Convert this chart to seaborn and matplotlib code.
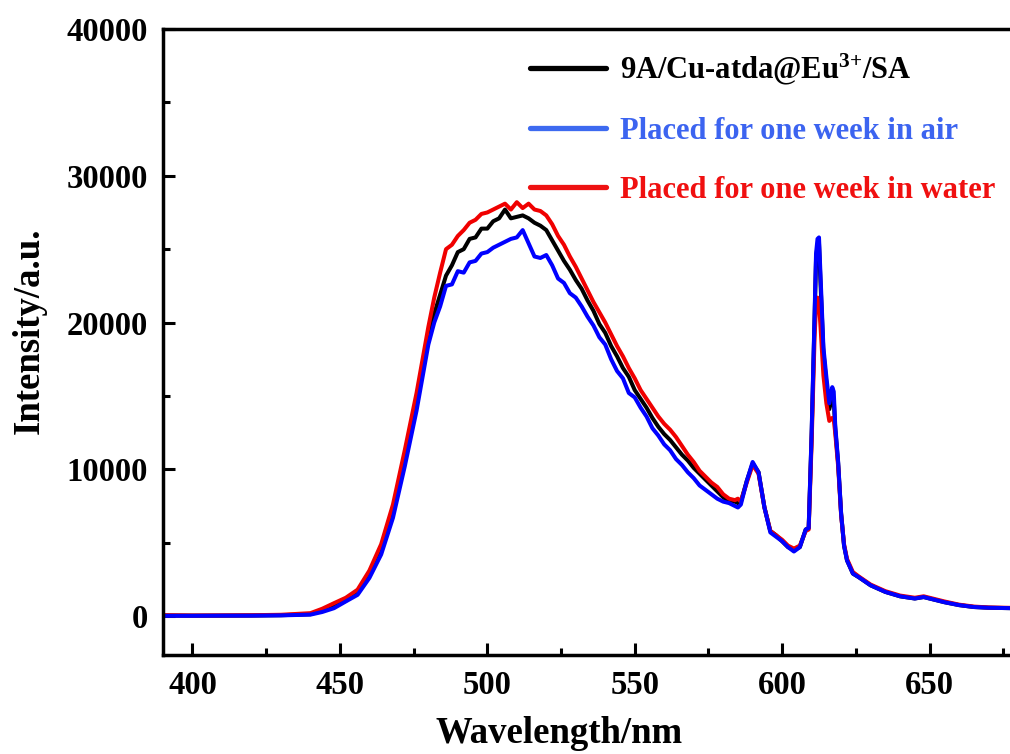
import matplotlib
matplotlib.use('Agg')
import pandas as pd
import matplotlib.pyplot as plt
from matplotlib.lines import Line2D
from matplotlib.ticker import MultipleLocator
import seaborn as sns

# emission spectra (wavelength in nm, intensity a.u.)
wavelength = [390, 400, 410, 420, 430, 440, 444, 448,
              452, 456, 460, 464, 468, 472, 476, 480,
              482, 484, 486, 488, 490, 492, 494, 496, 498, 500,
              502, 504, 506, 508, 510, 512, 514, 516, 518, 520,
              522, 524, 526, 528, 530, 532, 534, 536, 538, 540,
              542, 544, 546, 548, 550, 552, 554, 556, 558, 560,
              562, 564, 566, 568, 570, 572, 574, 576, 578, 580,
              582, 584, 585, 586, 588, 590, 592, 594, 596, 598, 600, 602, 604, 606, 608,
              609, 610, 611, 611.5, 612, 612.5, 613, 614, 615, 616, 617, 617.5, 618, 619, 620, 621, 622, 624,
              626, 630, 635, 640, 645, 648, 650, 655, 660, 665, 670, 678]

fresh = [40, 30, 30, 40, 60, 130, 380, 680,
         1050, 1550, 2750, 4450, 7000, 10600, 14500, 19000,
         20600, 21900, 23200, 23900, 24800, 25000, 25700, 25800, 26400, 26400,
         26900, 27100, 27700, 27100, 27200, 27300, 27100, 26800, 26600, 26300,
         25600, 24900, 24200, 23600, 22900, 22300, 21500, 20800, 19900, 19300,
         18400, 17700, 16900, 16300, 15400, 14800, 14200, 13500, 12900, 12400,
         12000, 11500, 11000, 10600, 10100, 9700, 9300, 8900, 8500, 8100,
         7800, 7800, 7700, 7800, 9200, 10400, 9800, 7400, 5800, 5500, 5100, 4700, 4500, 4700, 5900,
         6000, 12300, 20200, 24300, 25300, 25400, 22800, 18000, 15900, 14100, 14900, 14800, 12800, 10400, 7000, 4800, 3800, 2900,
         2650, 2100, 1650, 1350, 1200, 1300, 1200, 950, 750, 620, 570, 540]

air = [20, 20, 30, 30, 50, 100, 280, 540,
       1000, 1450, 2600, 4200, 6700, 10200, 14000, 18500,
       20000, 21100, 22500, 22600, 23500, 23400, 24100, 24200, 24700, 24800,
       25100, 25300, 25500, 25700, 25800, 26300, 25400, 24500, 24400, 24600,
       23900, 23000, 22700, 22000, 21700, 21100, 20400, 19800, 19000, 18500,
       17500, 16700, 16200, 15200, 14900, 14200, 13600, 12800, 12300, 11700,
       11300, 10700, 10300, 9800, 9400, 8900, 8600, 8300, 8000, 7800,
       7700, 7500, 7400, 7600, 9200, 10500, 9800, 7400, 5700, 5400, 5100, 4700, 4400, 4700, 5900,
       6000, 12500, 20500, 24700, 25700, 25800, 23300, 18300, 16300, 14500, 15600, 15300, 13000, 10500, 7000, 4800, 3800, 2900,
       2650, 2100, 1650, 1350, 1200, 1300, 1200, 950, 750, 620, 570, 540]

water = [60, 40, 50, 60, 90, 200, 500, 880,
         1250, 1800, 3100, 4900, 7600, 11300, 15200, 19700,
         21700, 23400, 25000, 25300, 25900, 26300, 26800, 27000, 27400, 27500,
         27700, 27900, 28100, 27700, 28200, 27800, 28100, 27700, 27600, 27300,
         26700, 25900, 25300, 24500, 23800, 23000, 22200, 21400, 20700, 20000,
         19200, 18400, 17700, 16900, 16200, 15400, 14800, 14200, 13600, 13100,
         12700, 12200, 11600, 11000, 10500, 9900, 9500, 9100, 8800, 8300,
         8000, 7900, 8000, 7800, 9100, 10300, 9700, 7400, 5800, 5500, 5200, 4800, 4600, 4800, 5800,
         5900, 11800, 19000, 21200, 21700, 21300, 19800, 16400, 14500, 13300, 13500, 13400, 12500, 10200, 6900, 4900, 3900, 3000,
         2700, 2150, 1700, 1400, 1250, 1350, 1250, 1000, 780, 650, 590, 560]

labels = [r'9A/Cu-atda@Eu$^{3{+}}$/SA', 'Placed for one week in air', 'Placed for one week in water']

df = pd.DataFrame({'wl': wavelength, 'fresh': fresh, 'air': air, 'water': water})

sns.set_style('ticks')
plt.rcParams['font.family'] = ['Liberation Serif', 'DejaVu Serif']
plt.rcParams['font.weight'] = 'bold'
plt.rcParams['mathtext.fontset'] = 'custom'
plt.rcParams['mathtext.rm'] = 'Liberation Serif:bold'
plt.rcParams['mathtext.bf'] = 'Liberation Serif:bold'
plt.rcParams['mathtext.it'] = 'Liberation Serif:bold:italic'
for k in ['text.color', 'axes.labelcolor', 'xtick.color', 'ytick.color', 'axes.edgecolor']:
    plt.rcParams[k] = 'black'

fig = plt.figure(figsize=(10.1, 7.54), dpi=100)
ax = fig.add_axes([163 / 1010, 1 - 655 / 754, 855 / 1010, 626 / 754])

# draw order: black, red, blue on top
sns.lineplot(data=df, x='wl', y='fresh', color='black', lw=2.9, ax=ax, sort=False, estimator=None)
sns.lineplot(data=df, x='wl', y='water', color='#f00000', lw=2.9, ax=ax, sort=False, estimator=None)
sns.lineplot(data=df, x='wl', y='air', color='#0000ff', lw=2.9, ax=ax, sort=False, estimator=None)

ax.set_xlim(390, 680)
ax.set_ylim(-2650, 40000)
ax.xaxis.set_major_locator(MultipleLocator(50))
ax.xaxis.set_minor_locator(MultipleLocator(25))
ax.yaxis.set_major_locator(MultipleLocator(10000))
ax.yaxis.set_minor_locator(MultipleLocator(5000))

ax.tick_params(which='major', direction='in', length=8.5, width=2.2, labelsize=23.5, top=False, right=False)
ax.tick_params(which='minor', direction='in', length=5, width=2.2, top=False, right=False)
ax.tick_params(axis='y', pad=11)
ax.tick_params(axis='x', pad=11)
ax.spines['right'].set_visible(False)
for s in ['left', 'bottom', 'top']:
    ax.spines[s].set_linewidth(2.5)

ax.set_xlabel('Wavelength/nm', fontsize=26.5, fontweight='bold')
ax.set_ylabel('Intensity/a.u.', fontsize=26.5, fontweight='bold')
ax.xaxis.set_label_coords(0.463, -0.098)
ax.yaxis.set_label_coords(-0.1357, 0.5176)

handle_colors = ['black', '#3d6af0', '#ee1111']
text_colors = ['black', '#3c64f0', '#f01010']
handles = [Line2D([], [], color=c, lw=3.8) for c in handle_colors]
leg = ax.legend(handles, labels, loc='upper left', bbox_to_anchor=(0.429, 0.963),
                frameon=False, borderpad=0, borderaxespad=0,
                prop={'size': 22, 'weight': 'bold'},
                handlelength=2.5, handletextpad=0.46, labelspacing=0.97)
for t, c in zip(leg.get_texts(), text_colors):
    t.set_color(c)

fig.savefig('out.png', dpi=100)
